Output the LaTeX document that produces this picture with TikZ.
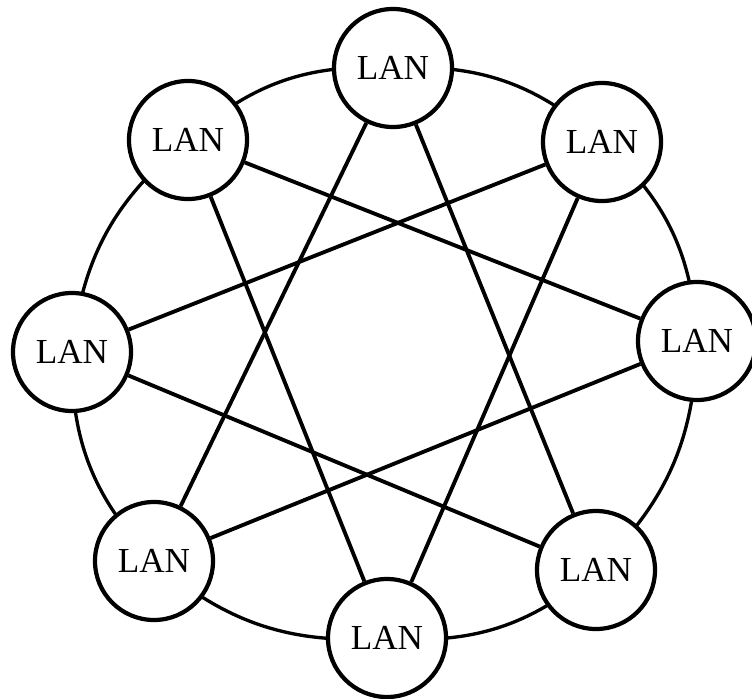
\documentclass[tikz,border=0pt]{standalone}
\usepackage{fontspec}
\setmainfont{Liberation Serif}
\usetikzlibrary{math, backgrounds}

\tikzset{
  lan/.style={circle, draw, fill=white, line width=2.4pt, minimum size=2.36cm, inner sep=0pt, font=\fontsize{20}{23}\selectfont},
  ring/.style={line width=1.9pt},
  chord/.style={line width=2.2pt}
}

\begin{document}
\begin{tikzpicture}
\tikzmath{
\bend=22.5;
}
\useasboundingbox (0,0) rectangle (15.04,13.96);

%%%%%%%%%% the LANs
\node[lan] (top) at (7.86,12.60) {LAN};
\node[lan] (topright) at (12.04,11.12) {LAN};
\node[lan] (right) at (13.94,7.14) {LAN};
\node[lan] (botright) at (11.92,2.56) {LAN};
\node[lan] (bot) at (7.74,1.20) {LAN};
\node[lan] (botleft) at (3.08,2.74) {LAN};
\node[lan] (left) at (1.44,6.92) {LAN};
\node[lan] (topleft) at (3.76,11.16) {LAN};

%%%%%%%%%% outer ring, behind the LANs
\begin{scope}[on background layer]
\draw[ring] (top.center) to[bend right=\bend] (topleft.center)
  to[bend right=\bend] (left.center)
  to[bend right=\bend] (botleft.center)
  to[bend right=\bend] (bot.center)
  to[bend right=\bend] (botright.center)
  to[bend right=\bend] (right.center)
  to[bend right=\bend] (topright.center)
  to[bend right=\bend] (top.center);
\end{scope}

%%%%%%%%%% star
\draw[chord] (top) -- (botright);
\draw[chord] (top) -- (botleft);
\draw[chord] (topright) -- (bot);
\draw[chord] (topright) -- (left);
\draw[chord] (right) -- (topleft);
\draw[chord] (right) -- (botleft);
\draw[chord] (botright) -- (left);
\draw[chord] (bot) -- (topleft);
\end{tikzpicture}
\end{document}
